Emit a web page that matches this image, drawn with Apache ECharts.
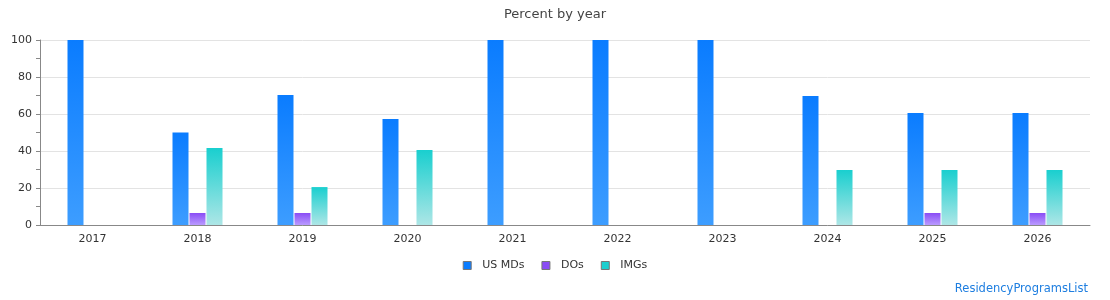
<!DOCTYPE html>
<html>
<head>
<meta charset="utf-8">
<script src="https://cdn.jsdelivr.net/npm/echarts@6/dist/echarts.min.js"></script>
<style>
html,body{margin:0;padding:0;background:#fff;}
#chart{width:1110px;height:300px;}
</style>
</head>
<body>
<div id="chart"></div>
<script>
const years = ['2017','2018','2019','2020','2021','2022','2023','2024','2025','2026'];
const usMDs = [100, 50, 70.3, 57.3, 100, 100, 100, 69.7, 60.6, 60.6];
const DOs   = [null, 6.5, 6.5, null, null, null, null, null, 6.5, 6.5];
const IMGs  = [null, 41.6, 20.5, 40.5, null, null, null, 29.7, 29.7, 29.7];
const yTicks = [0, 20, 40, 60, 80, 100];

const FONT = 'DejaVu Sans';
function grad(top, bottom){
  return new echarts.graphic.LinearGradient(0,0,0,1,[{offset:0,color:top},{offset:1,color:bottom}]);
}
function barSeries(name, data, top, bottom){
  return {
    name: name, type: 'bar', data: data,
    barWidth: 16, barGap: '6.25%',
    itemStyle: {color: grad(top, bottom)},
    emphasis: {disabled: true}
  };
}
const chart = echarts.init(document.getElementById('chart'));
chart.setOption({
  animation: false,
  textStyle: {fontFamily: FONT},
  title: {
    text: 'Percent by year', left: 'center', top: 3,
    textStyle: {fontFamily: FONT, fontSize: 13, fontWeight: 'normal', color: '#444'}
  },
  legend: {
    bottom: 24, left: 'center', itemWidth: 8, itemHeight: 8, itemGap: 17,
    icon: 'rect',
    itemStyle: {borderColor: '#777', borderWidth: 1},
    textStyle: {fontFamily: FONT, fontSize: 11, color: '#333', padding: [0, 0, 0, 6]},
    data: [
      {name: 'US MDs', itemStyle: {color: '#0a7cff'}},
      {name: 'DOs', itemStyle: {color: '#8a4cf5'}},
      {name: 'IMGs', itemStyle: {color: '#1ccfcf'}}
    ]
  },
  graphic: [{
    type: 'text', right: 22, bottom: 5,
    style: {text: 'ResidencyProgramsList', fill: '#1e7ee0', font: '11.5px "DejaVu Sans"'}
  }],
  grid: {left: 40, right: 20, top: 40, bottom: 75},
  xAxis: {
    type: 'category', data: years,
    axisLine: {lineStyle: {color: '#888'}},
    axisTick: {show: false},
    axisLabel: {color: '#333', fontSize: 11, fontFamily: FONT, margin: 9}
  },
  yAxis: {
    type: 'value', min: yTicks[0], max: yTicks[yTicks.length-1], interval: 20,
    axisLine: {show: true, lineStyle: {color: '#888'}},
    axisTick: {show: true, length: 4, lineStyle: {color: '#888'}},
    minorTick: {show: true, splitNumber: 2, length: 4, lineStyle: {color: '#888'}},
    splitLine: {lineStyle: {color: '#e3e3e3'}},
    axisLabel: {color: '#333', fontSize: 11, fontFamily: FONT, margin: 8}
  },
  series: [
    barSeries('US MDs', usMDs, '#0a7cff', '#3d9dff'),
    barSeries('DOs', DOs, '#8a4cf5', '#b99bff'),
    barSeries('IMGs', IMGs, '#19cfcf', '#ade6e6')
  ]
});
</script>
</body>
</html>
